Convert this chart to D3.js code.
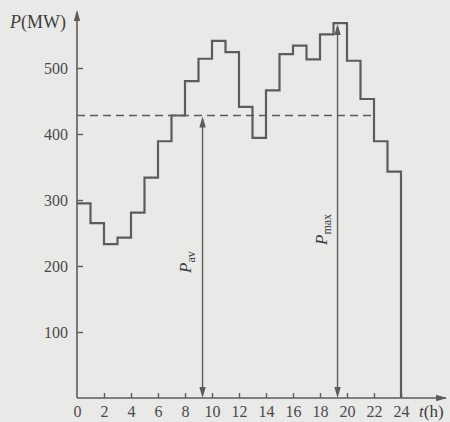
<!DOCTYPE html>
<html>
<head>
<meta charset="utf-8">
<script src="https://cdn.jsdelivr.net/npm/d3@7"></script>
<style>
  body { margin: 0; background: #e9e9e7; }
  svg { display: block; }
</style>
</head>
<body>
<div id="chart"></div>
<script>
// hourly load, MW
const hours = [0, 1, 2, 3, 4, 5, 6, 7, 8, 9, 10, 11, 12, 13, 14, 15, 16, 17, 18, 19, 20, 21, 22, 23, 24];
const load = [295, 265, 233, 243, 281, 334, 389, 428, 480, 514, 541, 524,
              441, 394, 466, 521, 534, 513, 551, 568, 511, 453, 389, 343];
const xTicks = [0, 2, 4, 6, 8, 10, 12, 14, 16, 18, 20, 22, 24];
const yTicks = [100, 200, 300, 400, 500];
const pAv = 428;
const pMax = 568;
const tAv = 9.3;
const tMax = 19.3;

let width = 450;
let height = 422;
let ink = "#5c5c5c";
let serif = "'Liberation Serif', 'DejaVu Serif', serif";

let xScale = d3.scaleLinear().domain([0, 24]).range([77, 401]);
let yScale = d3.scaleLinear().domain([0, 500]).range([398, 68]);

let svg = d3.select("#chart")
    .append("svg")
    .attr("width", width)
    .attr("height", height);

svg.append("rect")
    .attr("width", width)
    .attr("height", height)
    .attr("fill", "#e9e9e7");

// arrow head helper: tip at (x,y), pointing dir
const arrowHead = (x, y, dir) => {
    let l = 11, w = 3.2;
    if (dir === "up") return `M${x},${y}L${x - w},${y + l}L${x + w},${y + l}Z`;
    if (dir === "down") return `M${x},${y}L${x - w},${y - l}L${x + w},${y - l}Z`;
    return `M${x},${y}L${x - l},${y - w}L${x - l},${y + w}Z`;
};

// axes
let xAxis = d3.axisBottom(xScale)
    .tickValues(xTicks)
    .tickSizeInner(-5)
    .tickSizeOuter(0)
    .tickPadding(8)
    .tickFormat(d3.format("d"));

let yAxis = d3.axisLeft(yScale)
    .tickValues(yTicks)
    .tickSizeInner(-6)
    .tickSizeOuter(0)
    .tickPadding(9);

let gx = svg.append("g")
    .attr("transform", "translate(0," + yScale(0) + ")")
    .call(xAxis);

let gy = svg.append("g")
    .attr("transform", "translate(" + xScale(0) + ",0)")
    .call(yAxis);

[gx, gy].forEach(g => {
    g.select(".domain").remove();
    g.selectAll(".tick line").attr("stroke", ink).attr("stroke-width", 1.4);
    g.selectAll(".tick text")
        .attr("fill", "#4a4a4a")
        .attr("font-family", serif)
        .attr("font-size", "16px");
});
gx.selectAll(".tick").filter(d => d === 0).select("line").remove();

// axis lines with arrows
svg.append("line")
    .attr("x1", xScale(0)).attr("y1", yScale(0))
    .attr("x2", 446).attr("y2", yScale(0))
    .attr("stroke", ink).attr("stroke-width", 1.6);
svg.append("path").attr("d", arrowHead(447, yScale(0), "right")).attr("fill", ink);

svg.append("line")
    .attr("x1", xScale(0)).attr("y1", yScale(0))
    .attr("x2", xScale(0)).attr("y2", 12)
    .attr("stroke", ink).attr("stroke-width", 1.6);
svg.append("path").attr("d", arrowHead(xScale(0), 10, "up")).attr("fill", ink);

// average line, dashed
svg.append("line")
    .attr("x1", xScale(0)).attr("y1", yScale(pAv))
    .attr("x2", xScale(22)).attr("y2", yScale(pAv))
    .attr("stroke", ink)
    .attr("stroke-width", 1.5)
    .attr("stroke-dasharray", "8,5");

// the stepped load curve
let pts = hours.map((h, i) => [h, load[Math.min(i, load.length - 1)]]);
pts.push([24, 0]);

let line = d3.line()
    .x(d => xScale(d[0]))
    .y(d => yScale(d[1]))
    .curve(d3.curveStepAfter);

svg.append("path")
    .datum(pts)
    .attr("d", line)
    .attr("fill", "none")
    .attr("stroke", ink)
    .attr("stroke-width", 2.2);

// double arrows for Pav and Pmax
[[tAv, pAv], [tMax, pMax]].forEach(d => {
    let x = xScale(d[0]);
    svg.append("line")
        .attr("x1", x).attr("y1", yScale(d[1]) + 4)
        .attr("x2", x).attr("y2", yScale(0) - 4)
        .attr("stroke", ink).attr("stroke-width", 1.4);
    svg.append("path").attr("d", arrowHead(x, yScale(d[1]) + 1, "up")).attr("fill", ink);
    svg.append("path").attr("d", arrowHead(x, yScale(0), "down")).attr("fill", ink);
});

// labels
const label = (x, y, main, sub, rotate) => {
    let t = svg.append("text")
        .attr("fill", "#3e3e3e")
        .attr("font-family", serif)
        .attr("font-size", "17px")
        .attr("transform", `translate(${x},${y})` + (rotate ? " rotate(-90)" : ""));
    t.append("tspan").attr("font-style", "italic").text(main);
    t.append("tspan").attr("font-size", "12px").attr("dy", "0.35em").text(sub);
};

label(191, 273, "P", "av", true);
label(327, 245, "P", "max", true);

let yl = svg.append("text")
    .attr("x", 10).attr("y", 28)
    .attr("fill", "#3e3e3e")
    .attr("font-family", serif)
    .attr("font-size", "18px");
yl.append("tspan").attr("font-style", "italic").text("P");
yl.append("tspan").text("(MW)");

let xl = svg.append("text")
    .attr("x", 419).attr("y", 417)
    .attr("fill", "#3e3e3e")
    .attr("font-family", serif)
    .attr("font-size", "17px");
xl.append("tspan").attr("font-style", "italic").text("t");
xl.append("tspan").text("(h)");
</script>
</body>
</html>
